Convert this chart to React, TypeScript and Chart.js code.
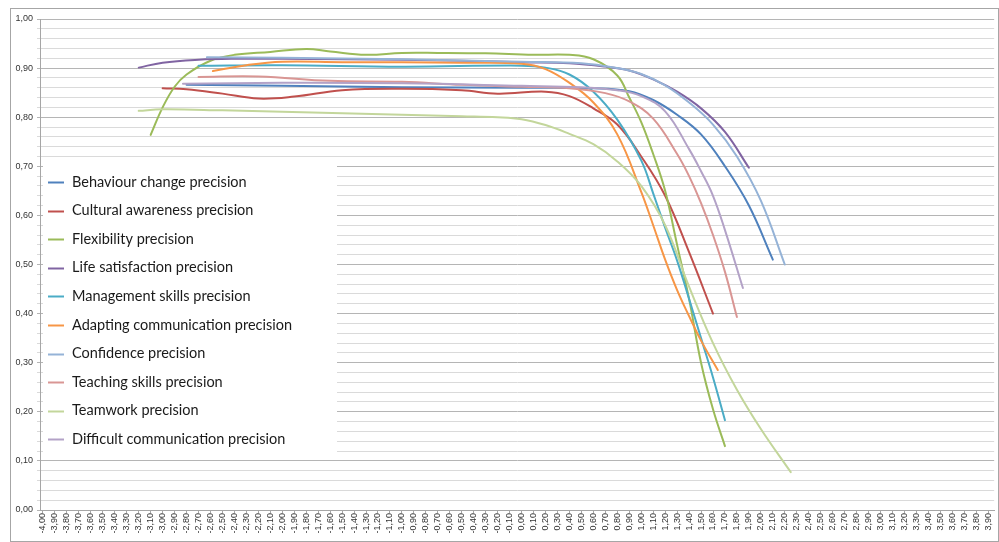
import React, { useEffect, useRef } from "react";
import { Chart, registerables } from "chart.js";

Chart.register(...registerables);

// ---- axis ticks ----
const xTickValues: number[] = Array.from({ length: 80 }, (_, i) => (i - 40) / 10);

// ---- series ----
const seriesNames = [
  "Behaviour change precision",
  "Cultural awareness precision",
  "Flexibility precision",
  "Life satisfaction precision",
  "Management skills precision",
  "Adapting communication precision",
  "Confidence precision",
  "Teaching skills precision",
  "Teamwork precision",
  "Difficult communication precision",
];

const behaviourX = [-2.8, -2.0, -1.0, 0.0, 0.6, 0.9, 1.1, 1.3, 1.5, 1.7, 1.9, 2.1];
const behaviourY = [0.866, 0.864, 0.861, 0.86, 0.859, 0.853, 0.835, 0.805, 0.765, 0.7, 0.62, 0.51];

const culturalX = [-3.0, -2.8, -2.5, -2.2, -1.9, -1.5, -1.0, -0.5, -0.2, 0.2, 0.4, 0.6, 0.8, 1.0, 1.2, 1.4, 1.6];
const culturalY = [0.859, 0.857, 0.848, 0.838, 0.842, 0.855, 0.858, 0.855, 0.848, 0.852, 0.843, 0.818, 0.785, 0.72, 0.64, 0.525, 0.4];

const flexibilityX = [-3.1, -3.0, -2.9, -2.8, -2.6, -2.4, -2.1, -1.8, -1.6, -1.3, -1.0, -0.7, -0.3, 0.1, 0.4, 0.6, 0.8, 0.9, 1.0, 1.1, 1.2, 1.3, 1.4, 1.5, 1.6, 1.7];
const flexibilityY = [0.764, 0.82, 0.862, 0.887, 0.915, 0.927, 0.933, 0.939, 0.934, 0.927, 0.931, 0.931, 0.93, 0.927, 0.927, 0.918, 0.885, 0.84, 0.79, 0.725, 0.65, 0.54, 0.43, 0.3, 0.205, 0.13];

const lifeX = [-3.2, -3.0, -2.7, -2.4, -2.0, -1.5, -1.0, -0.5, 0.0, 0.4, 0.7, 0.9, 1.1, 1.3, 1.5, 1.7, 1.9];
const lifeY = [0.901, 0.911, 0.917, 0.919, 0.919, 0.918, 0.917, 0.915, 0.912, 0.91, 0.903, 0.895, 0.877, 0.852, 0.818, 0.77, 0.697];

const managementX = [-2.7, -2.0, -1.0, 0.0, 0.2, 0.4, 0.6, 0.8, 1.0, 1.1, 1.2, 1.3, 1.4, 1.5, 1.6, 1.7];
const managementY = [0.905, 0.906, 0.903, 0.905, 0.901, 0.887, 0.852, 0.795, 0.712, 0.645, 0.575, 0.508, 0.43, 0.35, 0.27, 0.183];

const adaptingX = [-2.58, -2.3, -2.0, -1.5, -1.0, -0.5, 0.0, 0.2, 0.4, 0.6, 0.8, 1.0, 1.1, 1.2, 1.3, 1.4, 1.5, 1.64];
const adaptingY = [0.894, 0.906, 0.913, 0.912, 0.912, 0.911, 0.909, 0.898, 0.87, 0.83, 0.765, 0.648, 0.58, 0.51, 0.448, 0.395, 0.345, 0.285];

const confidenceX = [-2.63, -2.0, -1.0, 0.0, 0.5, 0.8, 1.0, 1.2, 1.4, 1.6, 1.8, 2.0, 2.2];
const confidenceY = [0.922, 0.921, 0.918, 0.913, 0.91, 0.9, 0.888, 0.865, 0.83, 0.785, 0.72, 0.63, 0.5];

const teachingX = [-2.7, -2.2, -1.6, -1.0, -0.5, 0.0, 0.4, 0.7, 0.9, 1.1, 1.3, 1.4, 1.5, 1.6, 1.7, 1.8];
const teachingY = [0.882, 0.883, 0.874, 0.872, 0.866, 0.862, 0.859, 0.849, 0.832, 0.797, 0.725, 0.68, 0.625, 0.56, 0.485, 0.393];

const teamworkX = [-3.2, -3.0, -2.5, -2.0, -1.5, -1.0, -0.5, -0.2, 0.0, 0.2, 0.4, 0.6, 0.8, 1.0, 1.2, 1.4, 1.6, 1.8, 2.0, 2.25];
const teamworkY = [0.813, 0.816, 0.814, 0.811, 0.808, 0.805, 0.802, 0.8, 0.796, 0.784, 0.766, 0.745, 0.71, 0.66, 0.58, 0.455, 0.34, 0.245, 0.165, 0.077];

const difficultX = [-2.83, -2.0, -1.0, 0.0, 0.5, 0.8, 1.0, 1.2, 1.4, 1.5, 1.6, 1.7, 1.85];
const difficultY = [0.868, 0.87, 0.869, 0.864, 0.861, 0.855, 0.843, 0.812, 0.735, 0.69, 0.64, 0.57, 0.452];

const seriesX = [behaviourX, culturalX, flexibilityX, lifeX, managementX, adaptingX, confidenceX, teachingX, teamworkX, difficultX];
const seriesY = [behaviourY, culturalY, flexibilityY, lifeY, managementY, adaptingY, confidenceY, teachingY, teamworkY, difficultY];

const seriesColors = [
  "#4F81BD",
  "#C0504D",
  "#9BBB59",
  "#8064A2",
  "#4BACC6",
  "#F79646",
  "#95B3D7",
  "#D99694",
  "#C3D69B",
  "#B3A2C7",
];

const fmt = (v: number) => Number(v).toFixed(2).replace(".", ",");

const legendPlugin = {
  id: "insideLegend",
  beforeDatasetsDraw(chart: any) {
    const ctx = chart.ctx;
    ctx.save();
    ctx.fillStyle = "#ffffff";
    ctx.fillRect(43, 159, 294, 299);
    ctx.font = "14.5px Lato";
    ctx.textBaseline = "middle";
    ctx.textAlign = "left";
    chart.data.datasets.forEach((ds: any, i: number) => {
      const y = 182 + i * 28.6;
      ctx.strokeStyle = ds.borderColor;
      ctx.lineWidth = 2;
      ctx.beginPath();
      ctx.moveTo(48, Math.round(y) + 0.5);
      ctx.lineTo(64, Math.round(y) + 0.5);
      ctx.stroke();
      ctx.fillStyle = "#1a1a1a";
      ctx.fillText(ds.label, 72, y);
    });
    ctx.restore();
  },
};

const borderPlugin = {
  id: "outerBorder",
  afterDraw(chart: any) {
    const ctx = chart.ctx;
    ctx.save();
    ctx.strokeStyle = "#a6a6a6";
    ctx.lineWidth = 1;
    ctx.strokeRect(10.5, 8.5, 988, 533);
    ctx.restore();
  },
};

export default function App() {
  const ref = useRef<HTMLCanvasElement | null>(null);

  useEffect(() => {
    document.body.style.margin = "0";
    if (!ref.current) return;
    const datasets = seriesNames.map((name, i) => ({
      label: name,
      data: seriesX[i].map((x, j) => ({ x, y: seriesY[i][j] })),
      borderColor: seriesColors[i],
      backgroundColor: seriesColors[i],
      borderWidth: 2,
      pointRadius: 0,
      pointHoverRadius: 0,
      tension: 0.4,
      fill: false,
      borderCapStyle: "round" as const,
      order: -i,
    }));

    const chart = new Chart(ref.current, {
      type: "line",
      data: { datasets },
      plugins: [legendPlugin, borderPlugin],
      options: {
        responsive: false,
        animation: false,
        layout: { padding: { top: 19, right: 2, left: 0, bottom: 0 } },
        plugins: {
          legend: { display: false },
          tooltip: { enabled: false },
        },
        scales: {
          x: {
            type: "linear",
            min: -4.025,
            max: 3.95,
            afterBuildTicks: (scale: any) => {
              scale.ticks = xTickValues.map((v) => ({ value: v }));
            },
            afterFit: (scale: any) => {
              scale.height = 32;
            },
            grid: {
              drawOnChartArea: false,
              drawTicks: true,
              tickLength: 3,
              color: "#a6a6a6",
              tickColor: "#a6a6a6",
            },
            border: { display: true, color: "#a6a6a6" },
            ticks: {
              autoSkip: false,
              maxRotation: 90,
              minRotation: 90,
              padding: 0,
              color: "#333333",
              font: { family: "Liberation Sans", size: 9 },
              callback: (v: any) => fmt(v),
            },
          },
          y: {
            type: "linear",
            min: 0,
            max: 1,
            afterFit: (scale: any) => {
              scale.width = 40;
            },
            grid: {
              color: (c: any) => (c.index % 5 === 0 ? "#b5b5b5" : "#dadada"),
              tickColor: (c: any) => (c.index % 5 === 0 ? "#b5b5b5" : "#dadada"),
              tickLength: 3,
              lineWidth: 1,
            },
            border: { display: true, color: "#a6a6a6" },
            ticks: {
              stepSize: 0.02,
              autoSkip: false,
              padding: 4,
              color: "#333333",
              font: { family: "Liberation Sans", size: 9 },
              callback: (v: any, i: number) => (i % 5 === 0 ? fmt(v) : ""),
            },
          },
        },
      },
    });
    return () => chart.destroy();
  }, []);

  return (
    <div style={{ position: "absolute", left: 0, top: 0, width: 999, height: 542, background: "#fff" }}>
      <canvas ref={ref} width={999} height={542} style={{ display: "block" }} />
    </div>
  );
}
